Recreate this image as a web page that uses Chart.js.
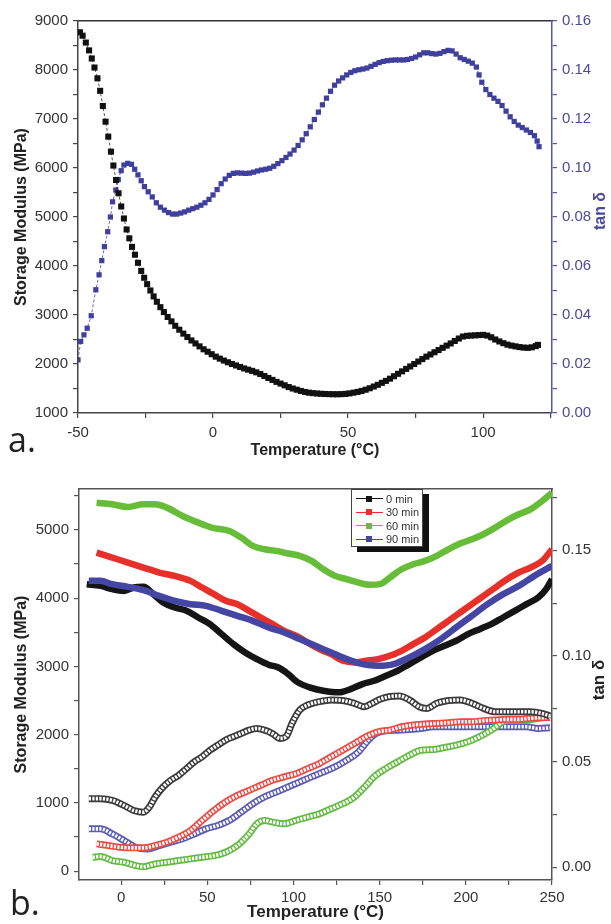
<!DOCTYPE html>
<html>
<head>
<meta charset="utf-8">
<script src="https://cdn.jsdelivr.net/npm/chart.js@4.4.1/dist/chart.umd.min.js"></script>
<style>
  html, body { margin: 0; padding: 0; background: #fff; }
  body { width: 611px; height: 924px; position: relative; overflow: hidden; font-family: "Liberation Sans", Arial, sans-serif; }
  .panel { position: absolute; left: 0; width: 611px; }
  #panelA { top: 0; height: 460px; }
  #panelB { top: 460px; height: 464px; }
  .tag { position: absolute; font-family: "Open Sans", sans-serif; font-size: 34px; line-height: 34px; color: #222; }
  .rtitle { position: absolute; font-weight: bold; font-size: 16px; white-space: nowrap; transform: translate(-50%, -50%) rotate(-90deg); }
  #legend { position: absolute; left: 351px; top: 489px; width: 72px; height: 58px; box-sizing: border-box;
            border: 1px solid #444; background: #fff; box-shadow: 6px 5px 0 #111; padding-top: 2px; }
  .lrow { height: 13.5px; display: flex; align-items: center; font-size: 11px; color: #333; }
  .lsym { position: relative; width: 27px; height: 7px; margin-left: 4px; margin-right: 3px; }
  .lsym .ln { position: absolute; left: 0; right: 0; top: 3px; height: 1px; }
  .lsym .sq { position: absolute; left: 10px; top: 0.5px; width: 6px; height: 6px; }
</style>
</head>
<body>
<div class="panel" id="panelA"><canvas id="chartA"></canvas></div>
<div class="panel" id="panelB"><canvas id="chartB"></canvas></div>
<div class="tag" style="left:8px; top:422px;">a.</div>
<div class="tag" style="left:10px; top:885px;">b.</div>
<div class="rtitle" style="left:600px; top:211px; color:#4b4b9b;">tan δ</div>
<div class="rtitle" style="left:599px; top:680px; color:#222; font-size:17px;">tan δ</div>
<div id="legend"></div>
<script>
// ---- panel a: storage modulus + tan delta ----
const tempModA = [-49.3, -48.3, -47.1, -45.9, -44.9, -43.9, -42.8, -41.8, -40.8, -39.8, -38.8, -37.8, -36.9, -35.9, -35, -34, -33, -32, -31, -30, -28.9, -27.8,
  -26.6, -25.5, -24.4, -23.2, -22, -20.8, -19.5, -18.2, -16.8, -15.4, -14, -12.5, -11, -9.5, -8, -6.5, -5, -3.5, -2, -0.5, 1, 2.5, 4, 5.5, 7, 8.5, 10,
  11.5, 13, 14.5, 16, 17.5, 19, 20.5, 22, 23.5, 25, 26.5, 28, 29.5, 31, 32.5, 34, 35.5, 37, 38.5, 40, 41.5, 43, 44.5, 46, 47.5, 49, 50.5, 52, 53.5, 55,
  56.5, 58, 59.5, 61, 62.5, 64, 65.5, 67, 68.5, 70, 71.5, 73, 74.5, 76, 77.5, 79, 80.5, 82, 83.5, 85, 86.5, 88, 89.5, 91, 92.5, 94, 95.5, 97, 98.5, 100,
  101.5, 103, 104.5, 106, 107.5, 109, 110.5, 112, 113.5, 115, 116.5, 118, 119.5, 120.3];
const modulusA = [8770, 8700, 8560, 8400, 8235, 8050, 7830, 7575, 7265, 6945, 6640, 6333, 6050, 5755, 5484, 5215, 4970, 4745, 4565, 4390, 4230, 4065,
  3900, 3760, 3630, 3500, 3380, 3270, 3160, 3060, 2960, 2870, 2780, 2700, 2620, 2550, 2480, 2420, 2360, 2300, 2250, 2200, 2150, 2110, 2070, 2035, 2000, 1970, 1940,
  1910, 1885, 1860, 1830, 1795, 1755, 1715, 1675, 1635, 1600, 1565, 1530, 1500, 1475, 1450, 1430, 1415, 1405, 1398, 1392, 1388, 1385, 1383, 1383, 1385, 1390, 1400, 1415, 1430, 1450,
  1475, 1505, 1540, 1575, 1615, 1655, 1700, 1750, 1800, 1850, 1900, 1950, 2000, 2050, 2100, 2150, 2195, 2240, 2285, 2330, 2375, 2420, 2470, 2520, 2560, 2575, 2580, 2585, 2590, 2595,
  2580, 2545, 2500, 2460, 2425, 2395, 2375, 2360, 2345, 2335, 2330, 2340, 2365, 2390];

const tempTanA = [-50, -49, -47.8, -46.6, -45.1, -43.4, -42.2, -41.2, -40.2, -39, -38, -37.2, -36, -35.1, -34, -33, -31.6, -30.2, -29, -27.8, -26.6, -25.4,
  -24, -22.5, -21, -19.5, -18, -16.5, -15, -13.5, -12, -10.5, -9, -7.5, -6, -4.5, -3, -1.5, 0, 1.5, 3, 4.5, 6, 7.5, 9, 10.5, 12, 13.5, 15, 16.5, 18,
  19.5, 21, 22.5, 24, 25.5, 27, 28.5, 30, 31.5, 33, 34.5, 36, 37.5, 39, 40.5, 42, 43.5, 45, 46.5, 48, 49.5, 51, 52.5, 54, 55.5, 57, 58.5, 60, 61.5, 63,
  64.5, 66, 67.5, 69, 70.5, 72, 73.5, 75, 76.5, 78, 79.5, 81, 82.5, 84, 85.5, 87, 88.5, 90, 91.5, 93, 94.5, 96, 97.5, 98.5, 99.5, 101, 102.5, 104, 105.5,
  107, 108.5, 110, 111.5, 113, 114.5, 116, 117.5, 119, 120, 120.7];
const tanA = [0.0217, 0.0292, 0.0319, 0.0346, 0.0397, 0.0503, 0.0564, 0.0622, 0.0679, 0.074, 0.080, 0.0862, 0.091, 0.0953, 0.0989, 0.1012, 0.1019, 0.1015, 0.0995, 0.0972, 0.0948, 0.0924,
  0.0903, 0.0882, 0.0858, 0.0840, 0.0828, 0.0818, 0.0812, 0.0812, 0.0816, 0.0821, 0.0828, 0.0834, 0.0840, 0.0848, 0.0858, 0.0872, 0.0890, 0.0912, 0.0936, 0.0955, 0.0970, 0.0978, 0.0980, 0.0979, 0.0978, 0.0979, 0.0983, 0.0988, 0.0992,
  0.0995, 0.0999, 0.1007, 0.1018, 0.1030, 0.1043, 0.1057, 0.1073, 0.1092, 0.1115, 0.1140, 0.1168, 0.1198, 0.1228, 0.1258, 0.1285, 0.1313, 0.1338, 0.1355, 0.1368, 0.1380, 0.1390, 0.1397, 0.1401, 0.1404, 0.1408, 0.1415, 0.1423, 0.1430, 0.1435,
  0.1438, 0.1440, 0.1441, 0.1441, 0.1441, 0.1443, 0.1447, 0.1453, 0.1462, 0.1470, 0.1470, 0.1467, 0.1465, 0.1468, 0.1475, 0.1480, 0.1478, 0.1465, 0.1450, 0.1443, 0.1436, 0.1428, 0.1412, 0.1380, 0.1350, 0.1320, 0.1300, 0.1285, 0.1272,
  0.1255, 0.1232, 0.1209, 0.1190, 0.1175, 0.1165, 0.1155, 0.1145, 0.1132, 0.1110, 0.1087];

// ticks (all tick marks) and the subset that carries a label
const ticksAx = [-50, -25, 0, 25, 50, 75, 100, 125];
const labelsAx = [-50, 0, 50, 100];
const ticksAy = [1000, 1500, 2000, 2500, 3000, 3500, 4000, 4500, 5000, 5500, 6000, 6500, 7000, 7500, 8000, 8500, 9000];
const labelsAy = [1000, 2000, 3000, 4000, 5000, 6000, 7000, 8000, 9000];
const ticksAy2 = [0, 0.01, 0.02, 0.03, 0.04, 0.05, 0.06, 0.07, 0.08, 0.09, 0.10, 0.11, 0.12, 0.13, 0.14, 0.15, 0.16];
const labelsAy2 = [0, 0.02, 0.04, 0.06, 0.08, 0.10, 0.12, 0.14, 0.16];

// ---- panel b: four cure times ----
const cureLabels = ['0 min', '30 min', '60 min', '90 min'];
const cureColors = ['#151515', '#e8302a', '#67bd38', '#4545a3'];
const openColors = ['#3a3a3a', '#ec4a44', '#63bb42', '#5b5bb4'];

const tempMod0 = [-20, -12, -5.2, 1.6, 7.3, 12.9, 18.6, 24.3, 31.1, 37.9, 44.7, 51.5, 58.3, 65.1, 71.9, 78.7, 85.5, 91.2, 96.9, 102.5, 109.3, 117.3, 126.4, 133.2,
  140, 146.8, 153.6, 160.4, 167.2, 174, 180.8, 187.6, 194.4, 201.2, 208, 214.8, 221.6, 228.4, 235.2, 242, 246.6, 250];
const mod0 = [4205, 4180, 4132, 4107, 4156, 4166, 4059, 3937, 3863, 3815, 3717, 3620, 3473, 3327, 3205, 3107, 3024, 2985, 2888, 2766, 2693, 2644, 2620, 2668,
  2741, 2790, 2863, 2937, 3034, 3132, 3229, 3302, 3376, 3473, 3546, 3620, 3717, 3815, 3912, 4010, 4132, 4278];
const tempMod30 = [-14.3, -5.2, 3.9, 12.9, 22, 31.1, 40.2, 47, 53.8, 60.6, 67.4, 74.2, 81, 87.8, 94.6, 101.4, 108.2, 115, 121.8, 128.6, 135.4, 142.2, 149,
  155.9, 162.7, 169.5, 176.3, 183.1, 189.9, 196.7, 203.5, 210.3, 217.1, 223.9, 230.7, 237.5, 244.3, 250];
const mod30 = [4668, 4595, 4522, 4449, 4376, 4327, 4254, 4156, 4059, 3961, 3912, 3815, 3717, 3620, 3522, 3449, 3351, 3254, 3180, 3083, 3059, 3083, 3107,
  3156, 3229, 3327, 3424, 3546, 3668, 3790, 3912, 4034, 4156, 4278, 4376, 4449, 4546, 4717];
const tempMod60 = [-14.3, -5.2, 3.9, 12.9, 19.7, 26.5, 35.6, 44.7, 52.6, 62.8, 69.6, 76.4, 83.2, 90, 96.8, 103.6, 110.5, 117.3, 124.1, 130.9, 137.7, 144.5,
  150.2, 155.9, 162.7, 169.5, 176.3, 183.1, 189.9, 196.7, 203.5, 210.3, 217.1, 223.9, 230.7, 237.5, 244.3, 250];
const mod60 = [5400, 5376, 5337, 5376, 5376, 5327, 5205, 5107, 5034, 4985, 4888, 4766, 4717, 4693, 4654, 4620, 4546, 4424, 4327, 4278, 4229, 4195,
  4205, 4302, 4424, 4498, 4546, 4620, 4717, 4800, 4863, 4937, 5034, 5141, 5229, 5302, 5424, 5546];
const tempMod90 = [-18.8, -12, -5.2, 3.9, 12.9, 22, 31.1, 40.2, 49.2, 58.3, 67.4, 76.4, 85.5, 94.6, 103.6, 112.7, 121.8, 130.9, 140, 149, 158.1, 167.2,
  176.3, 185.4, 194.4, 203.5, 212.6, 221.7, 230.7, 239.8, 250];
const mod90 = [4254, 4254, 4205, 4166, 4117, 4034, 3961, 3912, 3888, 3815, 3741, 3668, 3571, 3498, 3400, 3302, 3205, 3107, 3034, 3010, 3034, 3132,
  3254, 3400, 3571, 3741, 3912, 4059, 4180, 4327, 4473];

const tempTan0 = [-18.8, -12, -5.2, 1.6, 7.3, 12.9, 16.3, 19.7, 24.3, 28.8, 33.3, 37.9, 42.4, 47, 51.5, 56, 60.6, 65.1, 69.6, 74.2, 78.7, 83.2, 87.8,
  92.3, 95.7, 99.1, 103.6, 108.2, 115, 121.8, 128.6, 135.4, 141.1, 145.6, 150.2, 155.9, 161.5, 167.2, 172.9, 177.4, 183.1, 189.9, 196.7, 203.5, 210.3,
  217.1, 223.9, 230.7, 237.5, 244.3, 248.9];
const tan0 = [0.0325, 0.0325, 0.0317, 0.0293, 0.0269, 0.0261, 0.0285, 0.0333, 0.038, 0.0412, 0.0435, 0.0467, 0.0499, 0.0523, 0.0554, 0.0578, 0.0602, 0.0618, 0.0633, 0.0649, 0.0657, 0.0649, 0.0633,
  0.061, 0.0618, 0.0681, 0.0744, 0.0768, 0.0784, 0.0792, 0.0789, 0.0776, 0.076, 0.0776, 0.0795, 0.0808, 0.0811, 0.0792, 0.076, 0.0752, 0.0776, 0.0789, 0.0792, 0.0776, 0.0752,
  0.0736, 0.0736, 0.0736, 0.0736, 0.0728, 0.0716];
const tempTan30 = [-14.3, -7.5, -0.7, 6.1, 12.9, 19.7, 26.5, 33.3, 40.2, 47, 53.8, 60.6, 67.4, 74.2, 81, 87.8, 94.6, 101.4, 108.2, 115, 121.8, 128.6,
  135.4, 142.2, 149, 155.9, 162.7, 169.5, 176.3, 183.1, 189.9, 196.7, 203.5, 210.3, 217.1, 223.9, 230.7, 237.5, 244.3, 248.9];
const tan30 = [0.0111, 0.0103, 0.0095, 0.0092, 0.0092, 0.0103, 0.0119, 0.0143, 0.0174, 0.0222, 0.0269, 0.0309, 0.034, 0.0364, 0.0388, 0.0412, 0.0428, 0.0443, 0.0467, 0.0491, 0.0523, 0.0554,
  0.0586, 0.0618, 0.0641, 0.0649, 0.0665, 0.0673, 0.0678, 0.0681, 0.0684, 0.0689, 0.0689, 0.0694, 0.0697, 0.07, 0.07, 0.0705, 0.0708, 0.0709];
const tempTan60 = [-16.6, -12, -5.2, 1.6, 8.4, 12.9, 19.7, 26.5, 33.3, 40.2, 47, 53.8, 60.6, 67.4, 74.2, 78.7, 83.2, 87.8, 94.6, 101.4, 108.2, 115, 121.8,
  128.6, 135.4, 142.2, 146.7, 153.6, 160.4, 167.2, 174, 180.8, 187.6, 194.4, 201.2, 208, 214.8, 221.6, 228.4, 235.2, 242, 248.9];
const tan60 = [0.0048, 0.0051, 0.0032, 0.0024, 0.0008, 0.0003, 0.0016, 0.0024, 0.0032, 0.004, 0.0048, 0.0055, 0.0071, 0.0103, 0.0158, 0.0206, 0.0222, 0.0214, 0.0206, 0.0222, 0.0238, 0.0253, 0.0277,
  0.0301, 0.0333, 0.0388, 0.0428, 0.0467, 0.0499, 0.053, 0.0554, 0.0557, 0.0567, 0.0578, 0.0594, 0.0618, 0.0649, 0.0689, 0.0697, 0.0697, 0.0705, 0.0721];
const tempTan90 = [-18.8, -12, -5.2, 1.6, 8.4, 15.2, 22, 28.8, 35.6, 42.4, 49.2, 56, 62.8, 69.6, 76.4, 83.2, 90, 96.8, 103.6, 110.4, 117.3, 124.1, 130.9,
  137.7, 143.4, 147.9, 153.6, 160.4, 167.2, 174, 180.8, 187.6, 194.4, 201.2, 208, 214.8, 221.6, 228.4, 235.2, 242, 248.9];
const tan90 = [0.0182, 0.0182, 0.0158, 0.0127, 0.0095, 0.0087, 0.0103, 0.0119, 0.0135, 0.0158, 0.0182, 0.0198, 0.0222, 0.0261, 0.0301, 0.0333, 0.0356, 0.038, 0.0404, 0.0428, 0.0451, 0.0475, 0.0507,
  0.0546, 0.0602, 0.0633, 0.0646, 0.0649, 0.0652, 0.0657, 0.0665, 0.0665, 0.0665, 0.0665, 0.0665, 0.0665, 0.0665, 0.0665, 0.0665, 0.0657, 0.066];

const ticksBx = [0, 25, 50, 75, 100, 125, 150, 175, 200, 225, 250];
const labelsBx = [0, 50, 100, 150, 200, 250];
const ticksBy = [0, 500, 1000, 1500, 2000, 2500, 3000, 3500, 4000, 4500, 5000, 5500];
const labelsBy = [0, 1000, 2000, 3000, 4000, 5000];
const ticksBy2 = [0, 0.025, 0.05, 0.075, 0.10, 0.125, 0.15, 0.175];
const labelsBy2 = [0, 0.05, 0.10, 0.15];

const modTemps = [tempMod0, tempMod30, tempMod60, tempMod90];
const modValues = [mod0, mod30, mod60, mod90];
const tanTemps = [tempTan0, tempTan30, tempTan60, tempTan90];
const tanValues = [tan0, tan30, tan60, tan90];

function toPoints(xs, ys) {
    return xs.map((x, i) => ({ x: x, y: ys[i] }));
}
function fixWidth(w) { return scale => { scale.width = w; }; }
function fixHeight(h) { return scale => { scale.height = h; }; }
function setTicks(values) {
    return scale => { scale.ticks = values.map(v => ({ value: v })); };
}
function labelIf(list, digits) {
    return v => {
        const hit = list.some(l => Math.abs(l - v) < 1e-9);
        if (!hit) return '';
        return digits ? v.toFixed(digits) : String(v);
    };
}

const tickFont = { family: '"Liberation Sans", Arial, sans-serif', size: 15 };
const titleFont = { family: '"Liberation Sans", Arial, sans-serif', size: 16, weight: 'bold' };

Chart.defaults.animation = false;
Chart.defaults.events = [];
Chart.defaults.plugins.legend.display = false;
Chart.defaults.plugins.tooltip.enabled = false;

// panel a
new Chart(document.getElementById('chartA'), {
    type: 'line',
    data: {
        datasets: [{
            data: toPoints(tempModA, modulusA),
            yAxisID: 'y',
            borderColor: 'rgba(40,40,40,0.8)',
            borderWidth: 1,
            borderDash: [3, 2],
            pointStyle: 'rect',
            pointRadius: 4.3,
            pointBackgroundColor: '#111',
            pointBorderWidth: 0,
        }, {
            data: toPoints(tempTanA, tanA),
            yAxisID: 'y2',
            borderColor: 'rgba(70,70,160,0.8)',
            borderWidth: 1,
            borderDash: [3, 2],
            pointStyle: 'rect',
            pointRadius: 3.7,
            pointBackgroundColor: '#3f3f9e',
            pointBorderWidth: 0,
        }],
    },
    options: {
        responsive: true,
        maintainAspectRatio: false,
        layout: { padding: 0 },
        scales: {
            x: {
                type: 'linear', position: 'bottom', min: -50, max: 125.5,
                afterFit: fixHeight(47),
                afterBuildTicks: setTicks(ticksAx),
                ticks: { autoSkip: false, maxRotation: 0, color: '#333', font: tickFont, padding: 6,
                    callback: labelIf(labelsAx) },
                grid: { drawOnChartArea: false, tickLength: 5, color: '#444', lineWidth: 1.2 },
                border: { color: '#444', width: 1.5 },
                title: { display: true, text: 'Temperature (°C)', color: '#222', font: titleFont, padding: { top: 0, bottom: 0 } },
            },
            xTop: {
                type: 'linear', position: 'top', min: -50, max: 125.5,
                afterFit: fixHeight(21),
                ticks: { display: false },
                grid: { display: false },
                border: { color: '#333', width: 1.5 },
            },
            y: {
                position: 'left', min: 1000, max: 9000,
                afterFit: fixWidth(78),
                afterBuildTicks: setTicks(ticksAy),
                ticks: { autoSkip: false, color: '#333', font: tickFont, padding: 5,
                    callback: labelIf(labelsAy) },
                grid: { drawOnChartArea: false, tickLength: 5, color: '#444', lineWidth: 1.2 },
                border: { color: '#444', width: 1.5 },
                title: { display: true, text: 'Storage Modulus (MPa)', color: '#222', font: titleFont, padding: { top: 12, bottom: 0 } },
            },
            y2: {
                position: 'right', min: 0, max: 0.16,
                afterFit: fixWidth(59),
                afterBuildTicks: setTicks(ticksAy2),
                ticks: { autoSkip: false, color: '#4b4b9b', font: tickFont, padding: 5,
                    callback: labelIf(labelsAy2, 2) },
                grid: { drawOnChartArea: false, tickLength: 5, color: '#5656a6', lineWidth: 1.2 },
                border: { color: '#5656a6', width: 1.5 },
            },
        },
    },
});

// panel b
const datasetsB = [];
cureLabels.forEach((label, k) => {
    datasetsB.push({
        label: label,
        data: toPoints(modTemps[k], modValues[k]),
        yAxisID: 'y',
        borderColor: cureColors[k],
        borderWidth: 6.5,
        pointRadius: 0,
        cubicInterpolationMode: 'monotone',
        order: 3 - k,
    });
});
cureLabels.forEach((label, k) => {
    const pts = toPoints(tanTemps[k], tanValues[k]);
    // hollow-square band: coloured edge with a dashed white core
    datasetsB.push({
        data: pts,
        yAxisID: 'y2',
        borderColor: '#fff',
        borderWidth: 3.6,
        borderDash: [2.2, 1.3],
        pointRadius: 0,
        cubicInterpolationMode: 'monotone',
        order: 10 + 2 * k,
    });
    datasetsB.push({
        data: pts,
        yAxisID: 'y2',
        borderColor: openColors[k],
        borderWidth: 7,
        pointRadius: 0,
        cubicInterpolationMode: 'monotone',
        order: 11 + 2 * k,
    });
});

new Chart(document.getElementById('chartB'), {
    type: 'line',
    data: { datasets: datasetsB },
    options: {
        responsive: true,
        maintainAspectRatio: false,
        layout: { padding: 0 },
        scales: {
            x: {
                type: 'linear', position: 'bottom', min: -24.5, max: 250,
                afterFit: fixHeight(44),
                afterBuildTicks: setTicks(ticksBx),
                ticks: { autoSkip: false, maxRotation: 0, color: '#333', font: tickFont, padding: 4,
                    callback: labelIf(labelsBx) },
                grid: { drawOnChartArea: false, tickLength: 5, color: '#555', lineWidth: 1.2 },
                border: { color: '#555', width: 1.5 },
                title: { display: true, text: 'Temperature (°C)', color: '#222', font: { ...titleFont, size: 17 }, padding: { top: 0, bottom: 1 } },
            },
            xTop: {
                type: 'linear', position: 'top', min: -24.5, max: 250,
                afterFit: fixHeight(29),
                ticks: { display: false },
                grid: { display: false },
                border: { color: '#555', width: 1.5 },
            },
            y: {
                position: 'left', min: -130, max: 5600,
                afterFit: fixWidth(79),
                afterBuildTicks: setTicks(ticksBy),
                ticks: { autoSkip: false, color: '#333', font: tickFont, padding: 5,
                    callback: labelIf(labelsBy) },
                grid: { drawOnChartArea: false, tickLength: 5, color: '#555', lineWidth: 1.2 },
                border: { color: '#555', width: 1.5 },
                title: { display: true, text: 'Storage Modulus (MPa)', color: '#222', font: titleFont, padding: { top: 12, bottom: 0 } },
            },
            y2: {
                position: 'right', min: -0.006, max: 0.179,
                afterFit: fixWidth(59),
                afterBuildTicks: setTicks(ticksBy2),
                ticks: { autoSkip: false, color: '#333', font: tickFont, padding: 5,
                    callback: labelIf(labelsBy2, 2) },
                grid: { drawOnChartArea: false, tickLength: 5, color: '#555', lineWidth: 1.2 },
                border: { color: '#555', width: 1.5 },
            },
        },
    },
});

// legend built from the series names
const legend = document.getElementById('legend');
cureLabels.forEach((label, k) => {
    const row = document.createElement('div');
    row.className = 'lrow';
    row.innerHTML = '<span class="lsym"><span class="ln" style="background:' + cureColors[k] + '"></span>' +
        '<span class="sq" style="background:' + cureColors[k] + '"></span></span><span>' + label + '</span>';
    legend.appendChild(row);
});
</script>
</body>
</html>
